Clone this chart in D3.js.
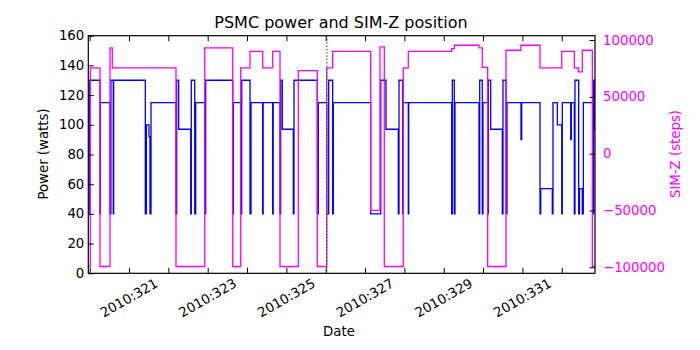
<!DOCTYPE html>
<html>
<head>
<meta charset="utf-8">
<script src="https://cdn.jsdelivr.net/npm/d3@7"></script>
<style>
  body { margin: 0; background: #fff; }
  svg { display: block; }
  text { font-family: "DejaVu Sans", sans-serif; }
</style>
</head>
<body>
<svg id="chart" width="700" height="350"></svg>
<script>
// ---- data (day of year 2010) ----
const powerTimes = [319.965, 319.99, 320.262, 320.27, 320.517, 320.54, 320.600, 320.61,
  321.414, 321.44, 321.508, 321.533, 321.559, 322.194, 322.212, 322.263, 322.568, 322.583,
  322.670, 322.695, 322.924, 322.949, 323.636, 323.651, 323.839, 323.865, 324.076, 324.101,
  324.398, 324.41, 324.652, 324.665, 324.838, 324.855, 324.896, 325.176, 325.194, 325.786,
  325.812, 326.025, 326.076, 326.177, 326.193, 327.143, 327.398, 327.532, 327.845, 327.863,
  327.957, 327.972, 328.099, 328.11, 329.202, 329.218, 329.268, 329.286, 329.896, 329.914,
  329.980, 329.998, 330.117, 330.133, 330.194, 330.489, 330.506, 330.583, 330.608, 330.964,
  330.982, 331.447, 331.465, 331.760, 331.777, 331.887, 332.000, 332.014, 332.228, 332.243,
  332.319, 332.336, 332.430, 332.45, 332.522, 332.548, 332.787, 332.812, 332.835, 332.845];
const powerValues = [40, 130, 40, 115, 40, 130, 40, 130,
  40, 100, 92, 40, 115, 40, 130, 97, 40, 130,
  40, 115, 40, 130, 40, 115, 40, 130, 40, 115,
  40, 115, 40, 115, 40, 130, 97, 40, 130, 40,
  115, 40, 130, 40, 115, 40, 130, 97, 40, 130,
  40, 115, 40, 115, 40, 130, 40, 115, 40, 130,
  40, 115, 40, 130, 97, 40, 130, 40, 115, 90,
  115, 40, 57, 40, 115, 100, 40, 115, 90, 115,
  40, 130, 40, 57, 40, 115, 40, 130, 97, 97];

const simzTimes = [319.965, 320.016, 320.262, 320.517, 320.575, 322.194, 322.924, 323.636,
  323.839, 324.076, 324.398, 324.652, 324.838, 325.303, 325.786, 326.025, 326.177, 327.143,
  327.38, 327.489, 327.972, 328.099, 329.202, 329.268, 329.896, 329.980, 330.117, 330.583,
  330.964, 331.447, 332.000, 332.319, 332.420, 332.522, 332.777, 332.845];
const simzValues = [-99300, 75400, -99300, 93000, 75400, -99300, 93000, -99300,
  75400, 90000, 75400, 90000, -99300, 73000, -99300, 75400, 90000, -49900,
  93900, -99300, 75400, 90000, 92400, 95400, 93000, 76000, -99300, 91000,
  95400, 75400, 90000, 75400, 72000, 91000, -99300, -99300];

const xTickDays = [320, 321, 322, 323, 324, 325, 326, 327, 328, 329, 330, 331, 332];
const xLabelDays = [321, 323, 325, 327, 329, 331];
const powerTicks = [0, 20, 40, 60, 80, 100, 120, 140, 160];
const simzTicks = [-100000, -50000, 0, 50000, 100000];
const markerDay = [326.03];

// ---- layout ----
const svg = d3.select("#chart");
const L = 88.3, R = 595, T = 35.7, B = 273.3;
const x = d3.scaleLinear().domain([319.965, 332.845]).range([L, R]);
const yP = d3.scaleLinear().domain([0, 160]).range([B, T]);
const yS = d3.scaleLinear().domain([-105300, 103800]).range([B, T]);

const clip = svg.append("defs").append("clipPath").attr("id", "clip")
  .append("rect").attr("x", L).attr("y", T).attr("width", R - L).attr("height", B - T);

const plot = svg.append("g").attr("clip-path", "url(#clip)");

const powerData = powerTimes.map((t, i) => [t, powerValues[i]]);
const simzData = simzTimes.map((t, i) => [t, simzValues[i]]);

plot.append("path")
  .attr("d", d3.line().x(d => x(d[0])).y(d => yP(d[1])).curve(d3.curveStepAfter)(powerData))
  .attr("fill", "none").attr("stroke", "#0000ff").attr("stroke-width", 1.3);

plot.append("path")
  .attr("d", d3.line().x(d => x(d[0])).y(d => yS(d[1])).curve(d3.curveStepAfter)(simzData))
  .attr("fill", "none").attr("stroke", "#ff00ff").attr("stroke-width", 1.3);

plot.selectAll("line.marker").data(markerDay).enter().append("line")
  .attr("x1", d => x(d)).attr("x2", d => x(d)).attr("y1", T).attr("y2", B)
  .attr("stroke", "#008000").attr("stroke-width", 1.2).attr("stroke-dasharray", "1.3,2");

// ---- axes (ticks inside) ----
const tl = 5.5;
const axisBottom = d3.axisBottom(x).tickValues(xTickDays).tickSize(tl).tickFormat("");
const axisTop = d3.axisTop(x).tickValues(xTickDays).tickSize(tl).tickFormat("");
const gB = svg.append("g").attr("transform", `translate(0,${B})`).call(d3.axisTop(x).tickValues(xTickDays).tickSize(tl).tickFormat(""));
const gT = svg.append("g").attr("transform", `translate(0,${T})`).call(d3.axisBottom(x).tickValues(xTickDays).tickSize(tl).tickFormat(""));
const gL = svg.append("g").attr("transform", `translate(${L},0)`).call(d3.axisRight(yP).tickValues(powerTicks).tickSize(tl).tickFormat(""));
const gR = svg.append("g").attr("transform", `translate(${R},0)`).call(d3.axisLeft(yS).tickValues(simzTicks).tickSize(tl).tickFormat(""));
[gB, gT, gL, gR].forEach(g => {
  g.select(".domain").remove();
  g.selectAll(".tick line").attr("stroke", "#000").attr("stroke-width", 1);
});

svg.append("rect").attr("x", L).attr("y", T).attr("width", R - L).attr("height", B - T)
  .attr("fill", "none").attr("stroke", "#000").attr("stroke-width", 1.2);

// tick labels
svg.selectAll("text.pl").data(powerTicks).enter().append("text")
  .attr("x", L - 4).attr("y", d => yP(d)).attr("text-anchor", "end")
  .attr("dominant-baseline", "central").attr("font-size", 13.3).attr("fill", "#000")
  .text(d => d);

svg.selectAll("text.sl").data(simzTicks).enter().append("text")
  .attr("x", R + 8).attr("y", d => yS(d)).attr("text-anchor", "start")
  .attr("dominant-baseline", "central").attr("font-size", 13.3).attr("fill", "#ff00ff")
  .text(d => d < 0 ? "\u2212" + Math.abs(d) : d);

svg.selectAll("text.xl").data(xLabelDays).enter().append("text")
  .attr("transform", d => `translate(${x(d)},298) rotate(-30)`)
  .attr("text-anchor", "middle").attr("dominant-baseline", "central")
  .attr("font-size", 13.3).attr("fill", "#000")
  .text(d => "2010:" + d);

// titles
svg.append("text").attr("x", 341).attr("y", 22).attr("text-anchor", "middle")
  .attr("dominant-baseline", "central").attr("font-size", 16).text("PSMC power and SIM-Z position");
svg.append("text").attr("x", 339).attr("y", 331).attr("text-anchor", "middle")
  .attr("dominant-baseline", "central").attr("font-size", 13.3).text("Date");
svg.append("text").attr("transform", "translate(43,154) rotate(-90)").attr("text-anchor", "middle")
  .attr("dominant-baseline", "central").attr("font-size", 13.3).text("Power (watts)");
svg.append("text").attr("transform", "translate(675,154) rotate(-90)").attr("text-anchor", "middle")
  .attr("dominant-baseline", "central").attr("font-size", 13.3).attr("fill", "#ff00ff").text("SIM-Z (steps)");
</script>
</body>
</html>
